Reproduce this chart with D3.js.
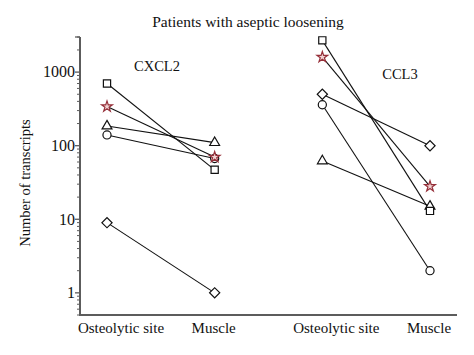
<!DOCTYPE html>
<html>
<head>
<meta charset="utf-8">
<script src="https://cdn.jsdelivr.net/npm/d3@7"></script>
<style>
  html, body { margin: 0; padding: 0; background: #fff; }
  svg { display: block; }
  text { font-family: "Liberation Serif", "DejaVu Serif", serif; fill: #111; }
</style>
</head>
<body>
<svg id="chart" width="474" height="355"></svg>
<script>
// ---- data ----
const title = "Patients with aseptic loosening";
const yTitle = "Number of transcripts";
const genes = ["CXCL2", "CCL3"];
const sites = ["Osteolytic site", "Muscle"];
const patientMarkers = ["square", "star", "triangle", "circle", "diamond"];
const cxcl2Osteolytic = [700, 340, 185, 140, 9];
const cxcl2Muscle = [47, 70, 110, 67, 1];
const ccl3Osteolytic = [2700, 1600, 62, 360, 500];
const ccl3Muscle = [13, 28, 15, 2, 100];
const yTickValues = [1, 10, 100, 1000];
const yDomain = [0.5, 3000];

// ---- layout ----
const svg = d3.select("#chart");
const axisColor = "#5c5c5c";
const plot = { left: 80, right: 457, top: 37, bottom: 315 };

const slots = [];
genes.forEach(g => sites.forEach(s => slots.push(g + "|" + s)));

const x = d3.scalePoint().domain(slots).range([107, 430]);
const y = d3.scaleLog().domain(yDomain).range([plot.bottom, plot.top]);

const seriesByGene = {
  CXCL2: [cxcl2Osteolytic, cxcl2Muscle],
  CCL3: [ccl3Osteolytic, ccl3Muscle]
};

// title
svg.append("text")
  .attr("x", 248).attr("y", 27)
  .attr("text-anchor", "middle")
  .style("font-size", "15.5px")
  .text(title);

// y axis
const minorTicks = [];
for (let e = -1; e <= 3; e++) {
  for (let m = 1; m <= 9; m++) {
    const v = m * Math.pow(10, e);
    if (v >= yDomain[0] && v <= yDomain[1] && !yTickValues.includes(v)) minorTicks.push(v);
  }
}

const yAxisG = svg.append("g").attr("transform", `translate(${plot.left},0)`);
yAxisG.selectAll("line.minor").data(minorTicks).join("line")
  .attr("class", "minor")
  .attr("x1", -3).attr("x2", 0)
  .attr("y1", d => y(d)).attr("y2", d => y(d))
  .attr("stroke", axisColor).attr("stroke-width", 1);
yAxisG.selectAll("line.major").data(yTickValues).join("line")
  .attr("class", "major")
  .attr("x1", -5).attr("x2", 0)
  .attr("y1", d => y(d)).attr("y2", d => y(d))
  .attr("stroke", axisColor).attr("stroke-width", 1.3);
yAxisG.append("line")
  .attr("x1", -5).attr("x2", 0)
  .attr("y1", plot.top).attr("y2", plot.top)
  .attr("stroke", axisColor).attr("stroke-width", 1.3);
yAxisG.selectAll("text.tick").data(yTickValues).join("text")
  .attr("class", "tick")
  .attr("x", -5).attr("y", d => y(d))
  .attr("dy", "0.33em")
  .attr("text-anchor", "end")
  .style("font-size", "16px")
  .text(d => d3.format("d")(d));
yAxisG.append("line")
  .attr("x1", 0).attr("x2", 0)
  .attr("y1", plot.top).attr("y2", plot.bottom + 1)
  .attr("stroke", axisColor).attr("stroke-width", 2);

// x axis line
svg.append("line")
  .attr("x1", plot.left - 1).attr("x2", plot.right)
  .attr("y1", plot.bottom).attr("y2", plot.bottom)
  .attr("stroke", axisColor).attr("stroke-width", 2);

// x labels
svg.selectAll("text.xlab").data(slots).join("text")
  .attr("class", "xlab")
  .attr("x", d => x(d) + (d.endsWith(sites[0]) ? 14 : -1))
  .attr("y", 333)
  .attr("text-anchor", "middle")
  .style("font-size", "15px")
  .text(d => d.split("|")[1]);

// y title
svg.append("text")
  .attr("transform", "translate(30,183) rotate(-90)")
  .attr("text-anchor", "middle")
  .style("font-size", "14.5px")
  .text(yTitle);

// gene labels
const geneLabelPos = { CXCL2: [157, 71], CCL3: [400, 79] };
genes.forEach(g => {
  svg.append("text")
    .attr("x", geneLabelPos[g][0]).attr("y", geneLabelPos[g][1])
    .attr("text-anchor", "middle")
    .style("font-size", "14.5px")
    .text(g);
});

// lines
const lineG = svg.append("g");
genes.forEach(g => {
  const [a, b] = seriesByGene[g];
  patientMarkers.forEach((m, i) => {
    lineG.append("line")
      .attr("x1", x(g + "|" + sites[0])).attr("y1", y(a[i]))
      .attr("x2", x(g + "|" + sites[1])).attr("y2", y(b[i]))
      .attr("stroke", "#111").attr("stroke-width", 1.1);
  });
});

// markers
const symbolFor = {
  square: { type: d3.symbolSquare, size: 52, rot: 0 },
  star: { type: d3.symbolStar, size: 36, rot: 0 },
  triangle: { type: d3.symbolTriangle, size: 42, rot: 0 },
  circle: { type: d3.symbolCircle, size: 52, rot: 0 },
  diamond: { type: d3.symbolSquare, size: 52, rot: 45 }
};
const markG = svg.append("g");
const drawOrder = [3, 4, 2, 0, 1]; // circle under star
genes.forEach(g => {
  const vals = seriesByGene[g];
  sites.forEach((s, si) => {
    drawOrder.forEach(i => {
      const m = patientMarkers[i];
      const sym = symbolFor[m];
      const isStar = m === "star";
      markG.append("path")
        .attr("d", d3.symbol().type(sym.type).size(sym.size)())
        .attr("transform", `translate(${x(g + "|" + s)},${y(vals[si][i])}) rotate(${sym.rot})`)
        .attr("fill", isStar ? "#f1d3d3" : "#fff")
        .attr("stroke", isStar ? "#96303a" : "#111")
        .attr("stroke-width", 1.2);
    });
  });
});
</script>
</body>
</html>
